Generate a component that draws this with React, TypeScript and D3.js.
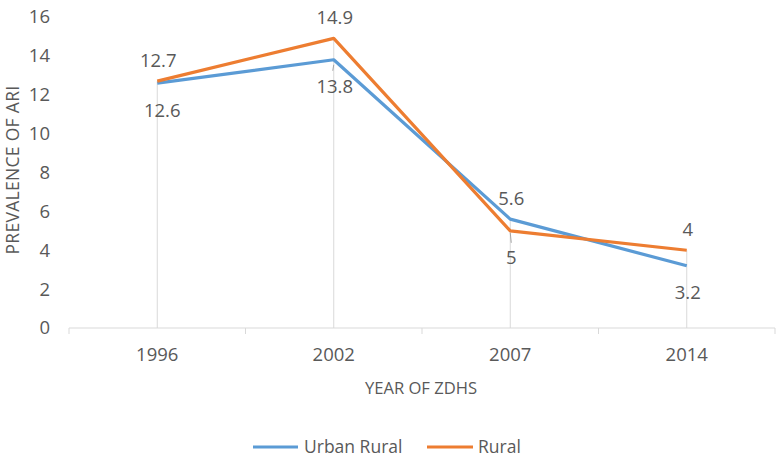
import React from "react";
import * as d3 from "d3";

const years = ["1996", "2002", "2007", "2014"];
const urban = [12.6, 13.8, 5.6, 3.2];
const rural = [12.7, 14.9, 5, 4];
const yTicks = [0, 2, 4, 6, 8, 10, 12, 14, 16];
const urbanLabelPos = ["below", "below", "above", "below"];
const ruralLabelPos = ["above", "above", "below", "above"];
const seriesNames = ["Urban Rural", "Rural"];

const W = 777, H = 457;
const FONT = "'Open Sans', sans-serif";
const TXT = "#595959";

export default function App() {
  const x = d3.scaleBand().domain(years).range([69, 775]);
  const y = d3.scaleLinear().domain([0, 16]).range([328, 17]);
  const cx = (d: string) => (x(d) as number) + x.bandwidth() / 2;
  const line = d3.line<number>().x((_, i) => cx(years[i])).y((v) => y(v));
  const blue = "#5b9bd5", orange = "#ed7d31";

  const label = (v: number, i: number, pos: string, key: string) => {
    const px = cx(years[i]);
    const py = y(v);
    const ty = pos === "above" ? py - 21 : py + 27;
    return (
      <text key={key} x={px + (pos === "below" && i === 0 ? 5 : 1)} y={ty} dy="0.35em" textAnchor="middle" fontSize={18.5} fill={TXT} fontFamily={FONT}>
        {v}
      </text>
    );
  };

  return (
    <svg width={W} height={H} style={{ position: "absolute", left: 0, top: 0, background: "#fff" }}>
      {years.map((yr, i) => (
        <line key={"d" + yr} x1={cx(yr)} x2={cx(yr)} y1={y(Math.max(urban[i], rural[i]))} y2={y(0)} stroke="#d9d9d9" strokeWidth={1} />
      ))}
      <line x1={69} x2={775} y1={y(0)} y2={y(0)} stroke="#d9d9d9" strokeWidth={1} />
      {x.domain().concat(["end"]).map((d, i) => {
        const xx = 69 + i * x.bandwidth();
        return <line key={"t" + i} x1={xx} x2={xx} y1={y(0)} y2={y(0) + 6} stroke="#d9d9d9" />;
      })}
      {years.map((yr) => (
        <text key={"xl" + yr} x={cx(yr)} y={355} dy="0.35em" textAnchor="middle" fontSize={18.5} fill={TXT} fontFamily={FONT}>{yr}</text>
      ))}
      {yTicks.map((t) => (
        <text key={"yt" + t} x={50} y={y(t)} dy="0.35em" textAnchor="end" fontSize={18.5} fill={TXT} fontFamily={FONT}>{t}</text>
      ))}
      <text x={421} y={388} dy="0.35em" textAnchor="middle" fontSize={16.6} fill={TXT} fontFamily={FONT}>YEAR OF ZDHS</text>
      <text transform={`translate(12.5,170) rotate(-90)`} dy="0.35em" textAnchor="middle" fontSize={17.5} letterSpacing={0.3} fill={TXT} fontFamily={FONT}>PREVALENCE OF ARI</text>
      <line x1={cx("2002")} x2={cx("2002") - 1} y1={y(urban[1]) + 5} y2={y(urban[1]) + 11} stroke="#a6a6a6" />
      <line x1={cx("2007")} x2={cx("2007") + 1} y1={y(rural[2]) + 2} y2={y(rural[2]) + 12} stroke="#a6a6a6" />
      <path d={line(urban) || ""} fill="none" stroke={blue} strokeWidth={3.2} strokeLinejoin="round" />
      <path d={line(rural) || ""} fill="none" stroke={orange} strokeWidth={3.2} strokeLinejoin="round" />
      {urban.map((v, i) => label(v, i, urbanLabelPos[i], "u" + i))}
      {rural.map((v, i) => label(v, i, ruralLabelPos[i], "r" + i))}
      <line x1={253} x2={298} y1={447} y2={447} stroke={blue} strokeWidth={3.2} />
      <text x={304} y={447} dy="0.35em" fontSize={17.5} fill={TXT} fontFamily={FONT}>{seriesNames[0]}</text>
      <line x1={427} x2={473} y1={447} y2={447} stroke={orange} strokeWidth={3.2} />
      <text x={478} y={447} dy="0.35em" fontSize={17.5} fill={TXT} fontFamily={FONT}>{seriesNames[1]}</text>
    </svg>
  );
}
